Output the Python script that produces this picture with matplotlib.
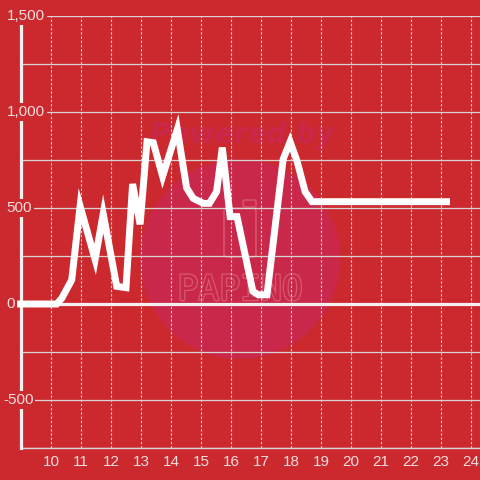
import matplotlib
matplotlib.use('Agg')
import matplotlib.pyplot as plt
import matplotlib.patheffects as pe
from matplotlib.patches import Circle, FancyBboxPatch

# data: hour of day vs value
hours = [8.87, 10.19, 10.36, 10.69, 10.97, 11.47, 11.74, 12.19, 12.5, 12.72,
         12.97, 13.2, 13.41, 13.72, 14.21, 14.52, 14.74, 15.08, 15.28, 15.52,
         15.71, 15.97, 16.2, 16.73, 16.91, 17.2, 17.74, 17.97, 18.2, 18.47,
         18.7, 23.3]
values = [0, 0, 30, 125, 510, 232, 470, 92, 85, 625,
          415, 845, 840, 665, 910, 605, 550, 524, 524, 585,
          815, 455, 455, 66, 48, 48, 755, 845, 745, 585,
          533, 533]

x_ticks = list(range(10, 25))
y_ticks = [1500, 1000, 500, 0, -500]
y_tick_labels = ['1,500', '1,000', '500', '0', '-500']
y_grid = [-750, -500, -250, 0, 250, 500, 750, 1000, 1250, 1500]

bg = '#cc292e'
grid_c = '#d9d4d4'
txt_c = '#f2dede'

fig = plt.figure(figsize=(4.8, 4.8), dpi=100)
fig.patch.set_facecolor(bg)
ax = fig.add_axes([21 / 480, 32 / 480, 459 / 480, 432 / 480])
ax.set_facecolor(bg)
ax.set_xlim(9.0, 24.3)
ax.set_ylim(-750, 1500)

for s in ['top', 'right']:
    ax.spines[s].set_visible(False)
ax.spines['left'].set_color('#f2f0f0')
ax.spines['left'].set_linewidth(2.3)
ax.spines['left'].set_zorder(4)
ax.spines['bottom'].set_color(grid_c)
ax.spines['bottom'].set_linewidth(1.0)

# grid
for yv in y_grid:
    ax.axhline(yv, color=grid_c, lw=0.9, zorder=1)
for xv in x_ticks:
    ax.axvline(xv, color=grid_c, lw=0.8, dashes=(2.2, 1.6), zorder=1)
ax.axhline(0, color='#f5f0f0', lw=2.3, zorder=2)

ax.set_xticks(x_ticks)
ax.set_xticklabels([str(v) for v in x_ticks])
ax.tick_params(axis='x', length=0, pad=5, labelsize=11, colors=txt_c)
ax.set_yticks([])
for lab in ax.get_xticklabels():
    lab.set_family('Liberation Sans')

# y labels with background boxes covering the axis line
for yv, lab in zip(y_ticks, y_tick_labels):
    xo = -0.039 if lab.startswith('-') else -0.031
    ax.text(xo, yv, lab, transform=ax.get_yaxis_transform(), ha='left', va='center',
            fontsize=11, color=txt_c, family='Liberation Sans', zorder=6,
            bbox=dict(boxstyle='square,pad=0.12', fc=bg, ec='none'), clip_on=False)

# watermark (figure pixel coords), under the grid and the line
def px(x, y):
    return (x / 100, (480 - y) / 100)

wm = '#c9284a'
ax.add_patch(Circle(px(240, 259), 1.0, transform=fig.dpi_scale_trans,
                    fc=wm, ec='none', zorder=0.5, clip_on=False))
ax.text(242 / 480, 1 - 135 / 480, 'Powered by', transform=fig.transFigure, ha='center', va='center',
        fontsize=20, fontstyle='italic', fontweight='bold', color='#c9284a',
        family='DejaVu Sans', zorder=0.6)
ax.add_patch(FancyBboxPatch(px(224, 257), 0.32, 0.49, boxstyle='round,pad=0,rounding_size=0.03',
                            transform=fig.dpi_scale_trans, fc='none', ec='#d45568', lw=1.2, zorder=0.6))
ax.add_patch(FancyBboxPatch(px(243, 207), 0.13, 0.07, boxstyle='round,pad=0,rounding_size=0.02',
                            transform=fig.dpi_scale_trans, fc='none', ec='#d45568', lw=1.2, zorder=0.6))
ax.text(240 / 480, 1 - 290 / 480, 'PAPINO', transform=fig.transFigure, ha='center', va='center',
        fontsize=25, color=wm, family='DejaVu Sans Mono', zorder=0.6,
        path_effects=[pe.withStroke(linewidth=1.8, foreground='#d65a6c')])

# main line
ax.plot(hours, values, color='white', lw=5, solid_capstyle='butt',
        solid_joinstyle='miter', zorder=5, clip_on=False)

fig.savefig('out.png', dpi=100, facecolor=bg)
